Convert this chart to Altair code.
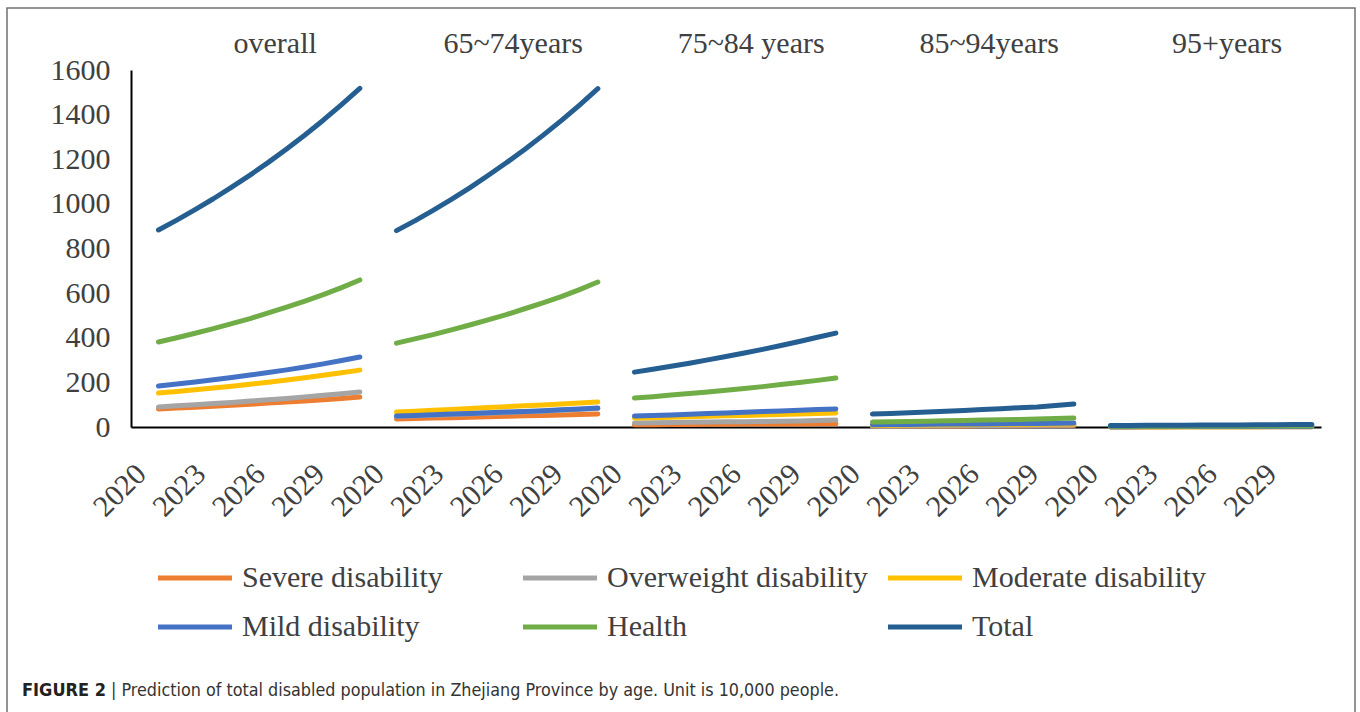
import json
import altair as alt
import pandas as pd

# ---------------- data ----------------
years = list(range(2020, 2032))
groups = ["overall", "65~74years", "75~84 years", "85~94years", "95+years"]
series = ["Severe disability", "Overweight disability", "Moderate disability",
          "Mild disability", "Health", "Total"]
colors = ["#ED7D31", "#A5A5A5", "#FFC000", "#4472C4", "#70AD47", "#255E91"]

overall_severe = [81, 85, 89, 93, 97, 102, 107, 112, 117, 122, 128, 134]
overall_overweight = [90, 95, 100, 105, 110, 116, 122, 128, 135, 142, 149, 157]
overall_moderate = [152, 159, 167, 175, 183, 192, 201, 211, 221, 232, 243, 255]
overall_mild = [184, 193, 202, 212, 222, 233, 244, 256, 269, 283, 298, 314]
overall_health = [381, 400, 420, 441, 463, 486, 511, 537, 564, 593, 625, 659]
overall_total = [883, 927, 974, 1023, 1075, 1129, 1186, 1246, 1309, 1375, 1445, 1518]

g65_severe = [36, 38, 40, 42, 44, 46, 48, 50, 52, 54, 56, 58]
g65_overweight = [47, 50, 53, 56, 59, 62, 65, 68, 71, 75, 79, 83]
g65_moderate = [67, 71, 75, 79, 83, 87, 91, 95, 99, 103, 108, 112]
g65_mild = [49, 52, 55, 58, 61, 64, 67, 70, 73, 77, 81, 85]
g65_health = [376, 395, 414, 435, 457, 480, 504, 530, 556, 584, 616, 650]
g65_total = [880, 924, 971, 1020, 1072, 1127, 1184, 1244, 1307, 1373, 1443, 1516]

g75_severe = [10, 10, 11, 11, 12, 12, 13, 13, 14, 14, 15, 15]
g75_overweight = [18, 19, 20, 21, 22, 23, 24, 25, 26, 27, 29, 31]
g75_moderate = [40, 42, 44, 46, 48, 50, 52, 54, 56, 58, 61, 63]
g75_mild = [49, 51, 54, 57, 60, 63, 66, 69, 72, 75, 78, 81]
g75_health = [130, 136, 143, 150, 157, 165, 173, 181, 190, 199, 209, 220]
g75_total = [246, 259, 272, 286, 301, 316, 332, 348, 365, 383, 402, 421]

g85_severe = [4, 4, 4, 5, 5, 5, 6, 6, 6, 7, 7, 7]
g85_overweight = [5, 5, 6, 6, 6, 7, 7, 7, 8, 8, 9, 9]
g85_moderate = [8, 8, 9, 9, 10, 10, 11, 11, 12, 12, 13, 14]
g85_mild = [10, 11, 11, 12, 13, 13, 14, 15, 16, 16, 17, 18]
g85_health = [22, 23, 25, 26, 28, 29, 31, 32, 34, 36, 38, 40]
g85_total = [58, 61, 64, 67, 71, 74, 78, 82, 86, 90, 96, 103]

g95_severe = [0.5, 0.5, 0.5, 0.5, 0.6, 0.6, 0.6, 0.6, 0.7, 0.7, 0.7, 0.8]
g95_overweight = [0.6, 0.6, 0.7, 0.7, 0.7, 0.8, 0.8, 0.8, 0.9, 0.9, 1.0, 1.0]
g95_moderate = [1.2, 1.2, 1.3, 1.3, 1.4, 1.4, 1.5, 1.5, 1.6, 1.7, 1.8, 1.9]
g95_mild = [1.5, 1.6, 1.7, 1.7, 1.8, 1.9, 2.0, 2.1, 2.2, 2.3, 2.4, 2.5]
g95_health = [3, 3, 3, 3, 3, 4, 4, 4, 4, 4, 5, 5]
g95_total = [7, 7, 8, 8, 8, 9, 9, 9, 10, 10, 11, 11]

table = {
    "overall": [overall_severe, overall_overweight, overall_moderate, overall_mild, overall_health, overall_total],
    "65~74years": [g65_severe, g65_overweight, g65_moderate, g65_mild, g65_health, g65_total],
    "75~84 years": [g75_severe, g75_overweight, g75_moderate, g75_mild, g75_health, g75_total],
    "85~94years": [g85_severe, g85_overweight, g85_moderate, g85_mild, g85_health, g85_total],
    "95+years": [g95_severe, g95_overweight, g95_moderate, g95_mild, g95_health, g95_total],
}

x_tick_labels = ["2020", "2023", "2026", "2029"] * 5
y_ticks = [0, 200, 400, 600, 800, 1000, 1200, 1400, 1600]
caption_bold = "FIGURE 2"
caption_text = "| Prediction of total disabled population in Zhejiang Province by age. Unit is 10,000 people."

# ---------------- build table ----------------
SLOTS_PER_GROUP = len(years) + 1  # one empty category before each group
rows = []
for gi, g in enumerate(groups):
    for si, s in enumerate(series):
        for yi, yr in enumerate(years):
            rows.append({"group": g, "series": s, "order": si, "year": yr,
                         "slot": gi * SLOTS_PER_GROUP + 1 + yi,
                         "value": table[g][si][yi]})
df = pd.DataFrame(rows)
n_slots = SLOTS_PER_GROUP * len(groups)

titles_df = pd.DataFrame({"title": groups,
                          "slot": [gi * SLOTS_PER_GROUP + 1 + (len(years) - 1) / 2 for gi in range(len(groups))]})
label_df = pd.DataFrame({"idx": list(range(len(years) * len(groups)))})

FONT = "Liberation Serif"
TXT = "#404040"
CAP_FONT = "DejaVu Sans Condensed, Liberation Sans Narrow, Arial Narrow, Liberation Sans, sans-serif"
slot_scale = alt.Scale(domain=[-0.5, n_slots - 0.5], nice=False, zero=False)

lines = alt.Chart(df).mark_line(strokeWidth=5, strokeCap="round", strokeJoin="round").encode(
    x=alt.X("slot:Q", scale=slot_scale,
            axis=alt.Axis(orient="bottom", labels=False, ticks=False, grid=False, title=None,
                          domainColor="black", domainWidth=2)),
    y=alt.Y("value:Q", scale=alt.Scale(domain=[0, 1600], nice=False),
            axis=alt.Axis(values=y_ticks, format="d", grid=False, ticks=False, title=None,
                          labelFont=FONT, labelFontSize=30, labelColor=TXT,
                          labelPadding=21, domainColor="black", domainWidth=2,
                          labelFlush=False)),
    color=alt.Color("series:N", scale=alt.Scale(domain=series, range=colors),
                    legend=alt.Legend(orient="none", legendX=49, legendY=493,
                                      direction="horizontal", columns=3,
                                      symbolType="M-3.7,0H3.7", symbolSize=400,
                                      symbolStrokeWidth=5, labelFont=FONT,
                                      labelFontSize=30, labelColor=TXT,
                                      labelOffset=32, columnPadding=10,
                                      rowPadding=19, gridAlign="all",
                                      title=None, labelLimit=500)),
    detail="group:N",
    order="year:Q",
)

titles = alt.Chart(titles_df).mark_text(font=FONT, fontSize=30, color=TXT,
                                        baseline="alphabetic", dx=16).encode(
    x=alt.X("slot:Q", scale=slot_scale, axis=None),
    y=alt.value(-17),
    text="title:N",
)

label_expr = json.dumps(x_tick_labels) + "[round(datum.value/3)]"
xlabels = alt.Chart(label_df).mark_point(opacity=0).encode(
    x=alt.X("idx:Q", scale=alt.Scale(domain=[-0.5, len(label_df) - 0.5], nice=False, zero=False),
            axis=alt.Axis(orient="bottom", values=list(range(0, len(label_df), 3)), labelExpr=label_expr,
                          labelAngle=-45, labelAlign="right", labelBaseline="middle",
                          labelPadding=42, ticks=False, domain=False, grid=False,
                          title=None, labelFont=FONT, labelFontSize=30, labelColor=TXT,
                          labelOverlap=False, labelFlush=False)),
)

one = pd.DataFrame({"a": [0]})
frame = alt.Chart(one).mark_rect(fill=None, stroke="#707070", strokeWidth=1.5).encode(
    x=alt.value(-124), x2=alt.value(1224), y=alt.value(-62), y2=alt.value(660))
cap1 = alt.Chart(one).mark_text(text=caption_bold, font=CAP_FONT, fontSize=18,
                                fontWeight="bold", color="#222222", align="left",
                                baseline="alphabetic").encode(x=alt.value(-109), y=alt.value(626))
cap2 = alt.Chart(one).mark_text(text=caption_text, font=CAP_FONT, fontSize=17.8,
                                color="#333333", align="left",
                                baseline="alphabetic").encode(x=alt.value(-20), y=alt.value(626))

chart = alt.layer(frame, lines, titles, xlabels, cap1, cap2).resolve_scale(
    x="independent"
).properties(
    width=1190, height=357,
    autosize=alt.AutoSizeParams(type="none"),
    padding={"left": 131, "top": 70, "right": 39, "bottom": 285},
).configure_view(stroke=None)

chart.save("out.html", embed_options={"renderer": "svg", "actions": False})
